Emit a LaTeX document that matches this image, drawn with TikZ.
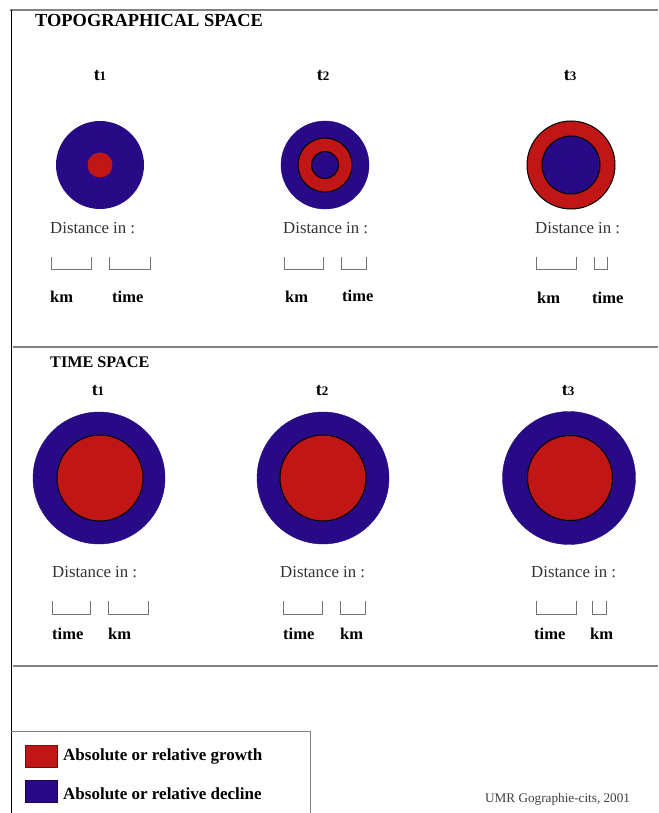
\documentclass[tikz,border=0pt]{standalone}
\usepackage{fontspec}
\setmainfont{Liberation Serif}
\definecolor{cblue}{RGB}{40,10,135}
\definecolor{cred}{RGB}{192,22,22}
\definecolor{rule}{RGB}{130,130,130}
\begin{document}
\begin{tikzpicture}[x=1pt,y=-1pt,
  txt/.style={anchor=west,inner sep=0pt,font=\fontsize{16.8}{19}\selectfont,text=black!80},
  lbl/.style={anchor=west,inner sep=0pt,font=\bfseries\fontsize{16.5}{19}\selectfont},
  ttl/.style={anchor=west,inner sep=0pt,font=\bfseries\fontsize{18.4}{21}\selectfont},
  tlab/.style={inner sep=0pt,font=\bfseries\fontsize{18}{20}\selectfont},
  bracket/.style={draw=black!55,line width=0.8pt},
  ring/.style={draw=black,line width=1pt},
  faint/.style={draw=cblue!88!black,line width=0.5pt},
  sep/.style={draw=rule,line width=2pt},
  leg/.style={anchor=west,inner sep=0pt,font=\bfseries\fontsize{17}{20}\selectfont}]
\useasboundingbox (0,0) rectangle (658,813);
% frame
\draw[draw=rule,line width=1.6pt] (10,10) -- (658,10);
\draw[line width=1pt] (11,10) -- (11,813);
\draw[sep] (13,347) -- (658,347);
\draw[sep] (13,666) -- (658,666);
\draw[draw=rule,line width=1pt] (11,731) -- (310,731) -- (310,813);
% titles
\node[ttl] (topo) at (35,21) {TOPOGRAPHICAL SPACE};
\node[anchor=west,inner sep=0pt,font=\bfseries\fontsize{16.2}{19}\selectfont] (ts) at (50,362) {TIME SPACE};
% ---- topographical space ----
\node[tlab] (ta1) at (100,76) {t{\fontsize{13}{14}\selectfont 1}};
\node[tlab] (ta2) at (323,76) {t{\fontsize{13}{14}\selectfont 2}};
\node[tlab] (ta3) at (570,76) {t{\fontsize{13}{14}\selectfont 3}};
% circle 1
\fill[cblue] (100,165) circle (44);
\draw[faint] (100,165) circle (26);
\draw[faint] (100,165) circle (36);
\fill[cred] (100,165) circle (12.5);
% circle 2
\filldraw[fill=cblue,draw=cblue] (325,165) circle (44);
\filldraw[fill=cred,ring] (325,165) circle (27);
\filldraw[fill=cblue,ring] (325,165) circle (13.5);
% circle 3
\filldraw[fill=cred,ring] (571,165) circle (44);
\filldraw[fill=cblue,ring] (571,165) circle (29);
\draw[faint] (571,165) circle (14);
% distance texts
\node[txt] (da1) at (50,228) {Distance in :};
\node[txt] (da2) at (283,228) {Distance in :};
\node[txt] (da3) at (535,228) {Distance in :};
% brackets
\draw[bracket] (51,257) -- (51,269) -- (91,269) -- (91,257);
\draw[bracket] (109,257) -- (109,269) -- (150,269) -- (150,257);
\draw[bracket] (284,257) -- (284,269) -- (323,269) -- (323,257);
\draw[bracket] (341,257) -- (341,269) -- (366,269) -- (366,257);
\draw[bracket] (536,257) -- (536,269) -- (576,269) -- (576,257);
\draw[bracket] (594,257) -- (594,269) -- (607,269) -- (607,257);
% labels
\node[lbl] (ka1) at (50,297) {km};
\node[lbl] (ma1) at (112,297) {time};
\node[lbl] (ka2) at (285,297) {km};
\node[lbl] (ma2) at (342,296) {time};
\node[lbl] (ka3) at (537,298) {km};
\node[lbl] (ma3) at (592,298) {time};
% ---- time space ----
\node[tlab] (tb1) at (98,391) {t{\fontsize{13}{14}\selectfont 1}};
\node[tlab] (tb2) at (322,391) {t{\fontsize{13}{14}\selectfont 2}};
\node[tlab] (tb3) at (568,391) {t{\fontsize{13}{14}\selectfont 3}};
\filldraw[fill=cblue,draw=cblue] (99,478) circle (66);
\filldraw[fill=cred,ring] (100,478) circle (43);
\filldraw[fill=cblue,draw=cblue] (323,478) circle (66);
\filldraw[fill=cred,ring] (323,478) circle (43);
\filldraw[fill=cblue,draw=cblue] (569,478) circle (66.5);
\filldraw[fill=cred,ring] (570,478) circle (42.5);
\node[txt] (db1) at (52,572) {Distance in :};
\node[txt] (db2) at (280,572) {Distance in :};
\node[txt] (db3) at (531,572) {Distance in :};
\draw[bracket] (52,601) -- (52,614) -- (90,614) -- (90,601);
\draw[bracket] (108,601) -- (108,614) -- (148,614) -- (148,601);
\draw[bracket] (283,601) -- (283,614) -- (322,614) -- (322,601);
\draw[bracket] (340,601) -- (340,614) -- (365,614) -- (365,601);
\draw[bracket] (536,601) -- (536,614) -- (576,614) -- (576,601);
\draw[bracket] (592,601) -- (592,614) -- (606,614) -- (606,601);
\node[lbl] (mb1) at (52,634) {time};
\node[lbl] (kb1) at (108,634) {km};
\node[lbl] (mb2) at (283,634) {time};
\node[lbl] (kb2) at (340,634) {km};
\node[lbl] (mb3) at (534,634) {time};
\node[lbl] (kb3) at (590,634) {km};
% legend
\filldraw[fill=cred,draw=cred!60!black,line width=0.6pt] (25,745) rectangle (57,767);
\filldraw[fill=cblue,draw=cblue!60!black,line width=0.6pt] (25,780) rectangle (57,802);
\node[leg] (lg1) at (63,756) {Absolute or relative growth};
\node[leg] (lg2) at (63,794) {Absolute or relative decline};
\node[anchor=west,inner sep=0pt,font=\fontsize{13.2}{15}\selectfont,text=black!75] (src) at (485,799) {UMR Gographie-cits, 2001};
\end{tikzpicture}
\end{document}
